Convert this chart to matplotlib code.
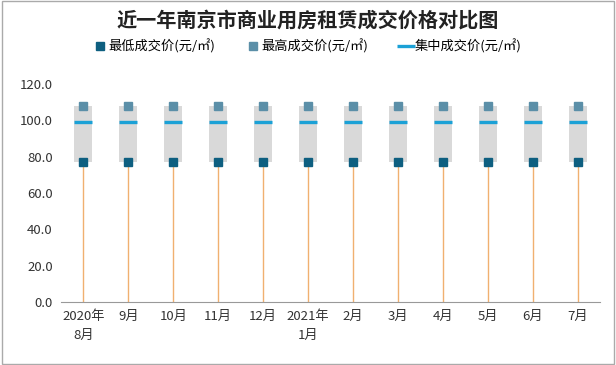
import matplotlib
matplotlib.use("Agg")
import matplotlib.pyplot as plt
import numpy as np

plt.rcParams['font.family'] = ['Noto Sans CJK SC', 'DejaVu Sans']

months = ["2020年\n8月", "9月", "10月", "11月", "12月", "2021年\n1月", "2月", "3月", "4月", "5月", "6月", "7月"]
low_price = [77.0] * 12
high_price = [108.0] * 12
mid_price = [99.0] * 12
yticks = [0, 20, 40, 60, 80, 100, 120]

fig = plt.figure(figsize=(6.16, 3.65), dpi=100)
ax = fig.add_axes([0.099, 0.1726, 0.875, 0.5972])
x = np.arange(len(months))

# orange drop lines from 0 to low
ax.vlines(x, 0, low_price, color='#f0b070', lw=1.0, zorder=1)
# grey boxes between low and high
ax.bar(x, np.array(high_price) - np.array(low_price), bottom=low_price, width=0.4,
       color='#d9d9d9', zorder=2)
ax.plot(x, low_price, 's', color='#0e5f80', ms=5.2, ls='none', zorder=4, label='最低成交价(元/㎡)')
ax.plot(x, high_price, 's', color='#5b8fa8', ms=5.2, ls='none', zorder=4, label='最高成交价(元/㎡)')
ax.plot(x, mid_price, '_', color='#1ba1d6', ms=12.5, mew=2.4, ls='none', zorder=4, label='集中成交价(元/㎡)')

ax.set_xlim(-0.5, len(months) - 0.5)
ax.set_ylim(0, 120)
ax.set_yticks(yticks)
ax.set_yticklabels([f"{v:.1f}" for v in yticks], fontsize=9.5, color='#333333')
ax.set_xticks(x)
ax.set_xticklabels(months, fontsize=9.5, color='#333333', linespacing=1.6)
ax.tick_params(axis='both', length=0, pad=6)
for s in ['top', 'right', 'left']:
    ax.spines[s].set_visible(False)
ax.spines['bottom'].set_color('#999999')

fig.text(0.5, 0.945, '近一年南京市商业用房租赁成交价格对比图', ha='center', va='center',
         fontsize=14.5, fontweight='bold', color='#222222')
leg = fig.legend(loc='center', bbox_to_anchor=(0.5, 0.873), ncol=3, frameon=False,
                 fontsize=9.5, handlelength=0.8, handletextpad=0.2, columnspacing=2.5)

# border
fig.patches.append(plt.Rectangle((0.003, 0.003), 0.994, 0.994, transform=fig.transFigure,
                                 fill=False, edgecolor='#aaaaaa', lw=1))
fig.savefig('out.png', dpi=100)
